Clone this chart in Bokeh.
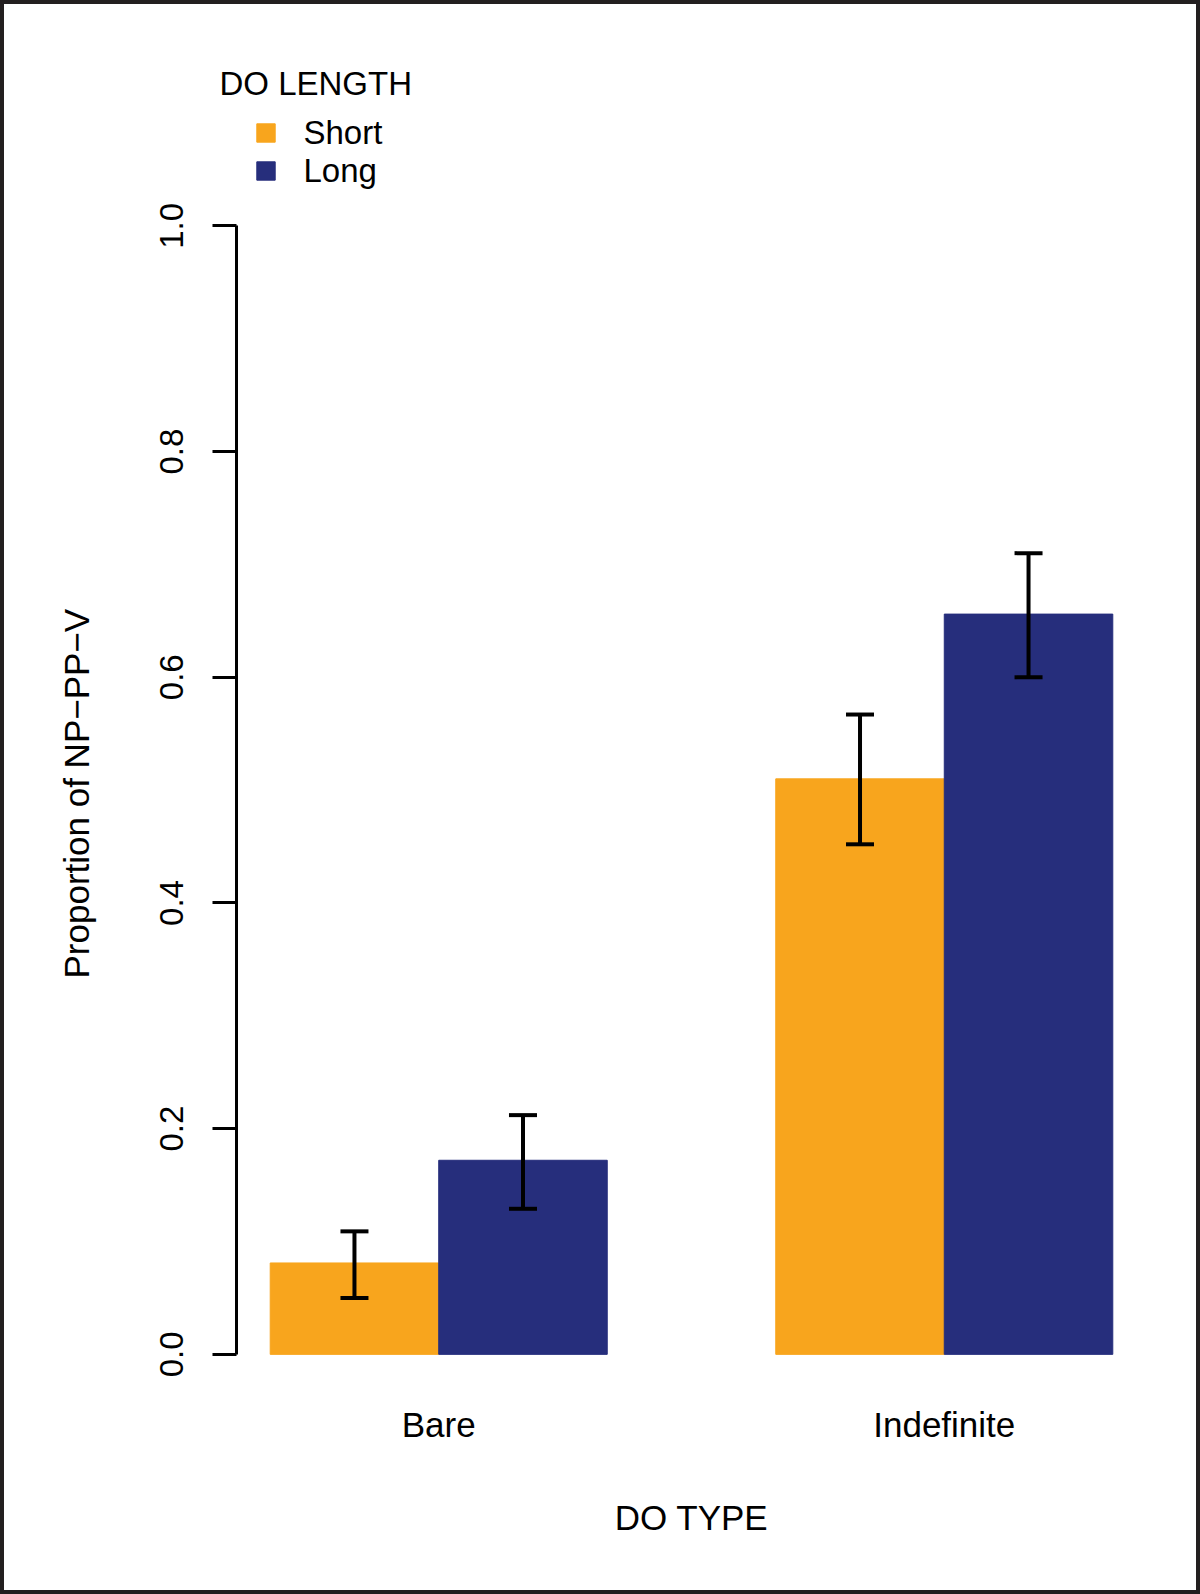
from bokeh.plotting import figure
from bokeh.models import (ColumnDataSource, Range1d, FixedTicker, Whisker, TeeHead,
                          Legend, LegendItem, Title, PrintfTickFormatter)
from bokeh.embed import file_html
from bokeh.resources import INLINE

# ---- data ----
categories = ["Bare", "Indefinite"]
lengths = ["Short", "Long"]
short_mean = [0.081, 0.510]
short_lower = [0.050, 0.452]
short_upper = [0.109, 0.567]
long_mean = [0.172, 0.656]
long_lower = [0.129, 0.600]
long_upper = [0.212, 0.710]
y_ticks = [0.0, 0.2, 0.4, 0.6, 0.8, 1.0]

colors = {"Short": "#F8A51D", "Long": "#262E7C"}
FONT = "Liberation Sans"

# R barplot(beside=TRUE) layout: bar width 1, no space inside a group, 1 before each group
group_start = [1 + 3 * i for i in range(len(categories))]
x_short = [g + 0.5 for g in group_start]
x_long = [g + 1.5 for g in group_start]
group_centers = [g + 1.0 for g in group_start]

W, H = 1200, 1594
p = figure(width=W, height=H, output_backend="svg", toolbar_location=None,
           x_range=Range1d(0.8, 6.2), y_range=Range1d(-0.04, 1.1067),
           min_border_left=236, min_border_right=54,
           min_border_top=105, min_border_bottom=195)
p.background_fill_color = "white"
p.border_fill_color = "white"
p.outline_line_color = None
p.xgrid.visible = False
p.ygrid.visible = False
p.stylesheets = [":host::after { content: ''; position: absolute; left: 0; top: 0; "
                 "right: 0; bottom: 0; border: 4px solid #231F20; z-index: 100; "
                 "pointer-events: none; }"]

src_short = ColumnDataSource(dict(x=x_short, top=short_mean, lower=short_lower, upper=short_upper))
src_long = ColumnDataSource(dict(x=x_long, top=long_mean, lower=long_lower, upper=long_upper))

r_short = p.vbar(x="x", top="top", bottom=0, width=1.0, source=src_short,
                 fill_color=colors["Short"], line_color=colors["Short"], line_width=1)
r_long = p.vbar(x="x", top="top", bottom=0, width=1.0, source=src_long,
                fill_color=colors["Long"], line_color=colors["Long"], line_width=1)

for src in (src_short, src_long):
    w = Whisker(source=src, base="x", upper="upper", lower="lower", dimension="height",
                line_width=4, line_color="black", level="overlay",
                upper_head=TeeHead(size=28, line_width=4, line_color="black"),
                lower_head=TeeHead(size=28, line_width=4, line_color="black"))
    p.add_layout(w)

# ---- y axis ----
ya = p.yaxis[0]
ya.ticker = FixedTicker(ticks=y_ticks)
ya.formatter = PrintfTickFormatter(format="%.1f")
ya.bounds = (0, 1)
ya.axis_line_width = 3
ya.axis_line_color = "black"
ya.major_tick_line_width = 3
ya.major_tick_line_color = "black"
ya.major_tick_out = 24
ya.major_tick_in = 0
ya.minor_tick_line_color = None
ya.major_label_orientation = "vertical"
ya.major_label_standoff = 29
ya.major_label_text_font = FONT
ya.major_label_text_font_size = "33px"
ya.major_label_text_color = "black"

# spacer between the tick labels and the y-axis title
spacer = Title(text=" ", text_font_size="2px", standoff=32, text_color="white")
p.add_layout(spacer, "left")

y_title = Title(text="Proportion of NP\u2212PP\u2212V", align="left", offset=421,
                standoff=52, vertical_align="bottom",
                text_font=FONT, text_font_size="35px", text_font_style="normal",
                text_color="black")
p.add_layout(y_title, "left")

# ---- x axis ----
xa = p.xaxis[0]
xa.ticker = FixedTicker(ticks=group_centers)
xa.major_label_overrides = {gc: c for gc, c in zip(group_centers, categories)}
xa.axis_line_color = None
xa.major_tick_line_color = None
xa.minor_tick_line_color = None
xa.major_tick_out = 0
xa.major_tick_in = 0
xa.major_label_standoff = 5
xa.major_label_text_font = FONT
xa.major_label_text_font_size = "35px"
xa.major_label_text_color = "black"
xa.axis_label = "DO TYPE"
xa.axis_label_text_font = FONT
xa.axis_label_text_font_size = "35px"
xa.axis_label_text_font_style = "normal"
xa.axis_label_text_color = "black"
xa.axis_label_standoff = 51

# ---- legend ----
legend = Legend(items=[LegendItem(label=lengths[0], renderers=[r_short]),
                       LegendItem(label=lengths[1], renderers=[r_long])],
                location=(17.5, 1209.5),
                label_text_font=FONT, label_text_font_size="33px", label_text_color="black",
                glyph_width=23, glyph_height=23, label_height=38, label_standoff=27,
                spacing=0, padding=0, margin=0,
                border_line_color=None, background_fill_alpha=0)
p.add_layout(legend)

legend_title = Title(text="DO LENGTH", align="left", offset=-17, standoff=8,
                     vertical_align="bottom",
                     text_font=FONT, text_font_size="33px", text_font_style="normal",
                     text_color="black")
p.add_layout(legend_title, "above")

open("out.html", "w").write(file_html(p, INLINE))
